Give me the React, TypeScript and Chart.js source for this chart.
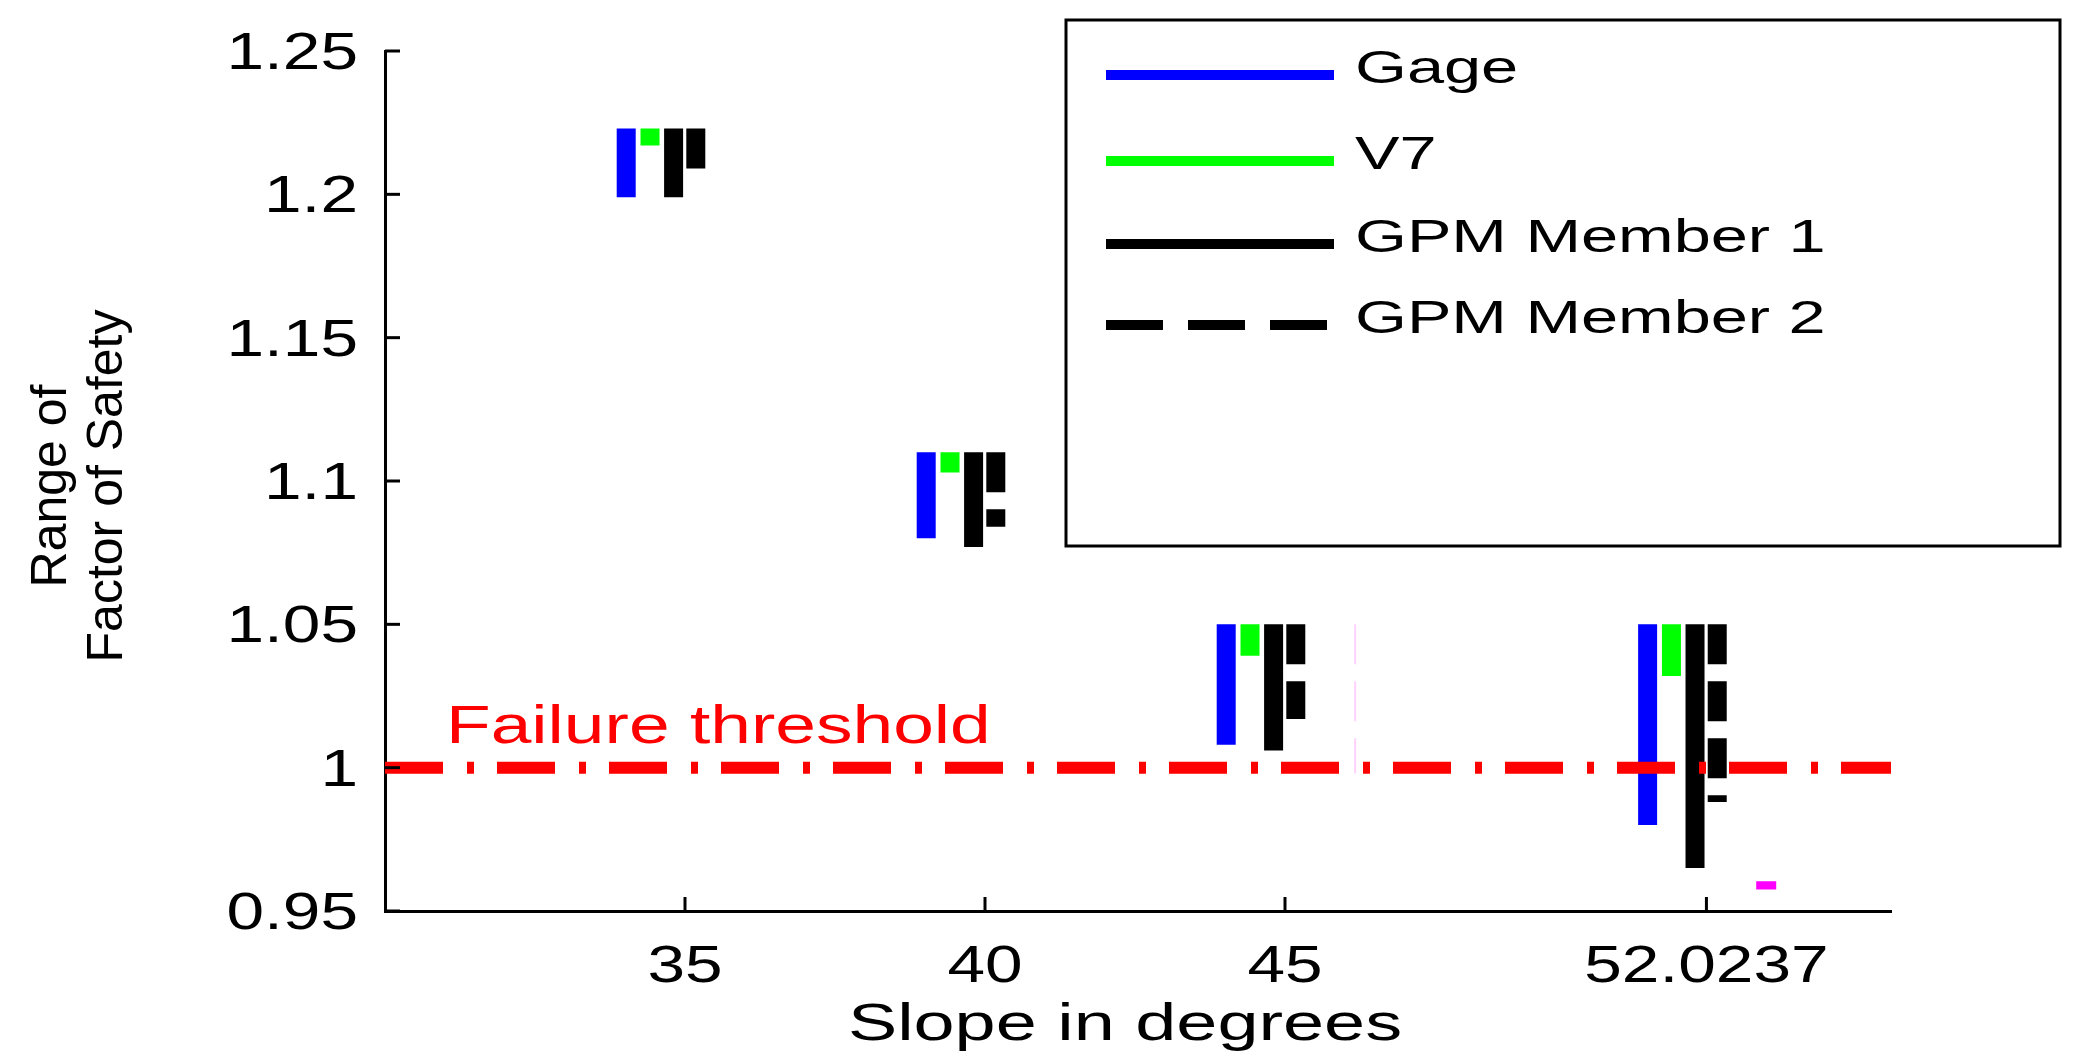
import React, { useEffect, useRef } from 'react';
import { Chart, registerables } from 'chart.js';

Chart.register(...registerables);

// ---------------- data ----------------
const slopes = [35, 40, 45, 52.0237];
const xTickLabels = ['35', '40', '45', '52.0237'];
const yTickValues = [0.95, 1, 1.05, 1.1, 1.15, 1.2, 1.25];
const yTickLabels = ['0.95', '1', '1.05', '1.1', '1.15', '1.2', '1.25'];

const seriesNames = ['Gage', 'V7', 'GPM Member 1', 'GPM Member 2'];

const gageLow = [1.199, 1.080, 1.008, 0.980];
const gageHigh = [1.223, 1.110, 1.050, 1.050];
const v7Low = [1.217, 1.103, 1.039, 1.032];
const v7High = [1.223, 1.110, 1.050, 1.050];
const gpm1Low = [1.199, 1.077, 1.006, 0.965];
const gpm1High = [1.223, 1.110, 1.050, 1.050];
const gpm2Low = [1.209, 1.084, 1.017, 0.988];
const gpm2High = [1.223, 1.110, 1.050, 1.050];

// extra (unlabelled) magenta marks
const extraX = [46.17, 53.02];
const extraLow = [0.998, 0.9575];
const extraHigh = [1.05, 0.9604];

const failureThreshold = 1;
const xMin = 30;
const xMax = 55.1;
const yMin = 0.95;
const yMax = 1.25;

// ---------------- styles ----------------
const FONT = '"Liberation Sans", Arial, Helvetica, sans-serif';
const seriesOffsets = [-0.98, -0.583, -0.19, 0.18];
const seriesColors = ['#0000ff', '#00ff00', '#000000', '#000000'];
const seriesDash: number[][] = [[], [], [], [40, 17]];
const legendDash: number[][] = [[], [], [], [57, 25]];

function rangeSegments(xs: number[], lows: number[], highs: number[], offset: number) {
  const pts: { x: number; y: number | null }[] = [];
  xs.forEach((x, i) => {
    pts.push({ x: x + offset, y: highs[i] });
    pts.push({ x: x + offset, y: lows[i] });
    pts.push({ x: x + offset, y: null });
  });
  return pts;
}

function drawText(
  ctx: CanvasRenderingContext2D,
  text: string,
  x: number,
  y: number,
  size: number,
  sx: number,
  align: 'left' | 'center' | 'right',
  color: string
) {
  ctx.save();
  ctx.font = `${size}px ${FONT}`;
  ctx.fillStyle = color;
  ctx.textBaseline = 'alphabetic';
  ctx.textAlign = 'left';
  const w = ctx.measureText(text).width * sx;
  const left = align === 'center' ? x - w / 2 : align === 'right' ? x - w : x;
  ctx.translate(left, y);
  ctx.scale(sx, 1);
  ctx.fillText(text, 0, 0);
  ctx.restore();
}

const decorPlugin = {
  id: 'decor',
  afterDraw(chart: any) {
    const ctx: CanvasRenderingContext2D = chart.ctx;
    const xs = chart.scales.x;
    const ys = chart.scales.y;
    const area = chart.chartArea;

    ctx.save();
    ctx.strokeStyle = '#000';
    ctx.lineWidth = 3;
    ctx.lineCap = 'butt';

    // y ticks (inward) + labels
    ys.ticks.forEach((t: any, i: number) => {
      const py = ys.getPixelForValue(t.value);
      ctx.beginPath();
      ctx.moveTo(area.left, py);
      ctx.lineTo(area.left + 15, py);
      ctx.stroke();
      drawText(ctx, yTickLabels[i], area.left - 27, py + 18, 52, 1.3, 'right', '#000');
    });

    // x ticks (inward) + labels
    xs.ticks.forEach((t: any, i: number) => {
      const px = xs.getPixelForValue(t.value);
      ctx.beginPath();
      ctx.moveTo(px, area.bottom);
      ctx.lineTo(px, area.bottom - 14);
      ctx.stroke();
      drawText(ctx, xTickLabels[i], px, area.bottom + 71, 52, 1.3, 'center', '#000');
    });

    // x title
    drawText(ctx, 'Slope in degrees', 1125, 1040, 52, 1.42, 'center', '#000');

    // y title (rotated)
    ctx.save();
    ctx.fillStyle = '#000';
    ctx.font = `50px ${FONT}`;
    ctx.textAlign = 'center';
    ctx.textBaseline = 'alphabetic';
    const cy = (area.top + area.bottom) / 2 + 5;
    ctx.translate(66, cy);
    ctx.rotate(-Math.PI / 2);
    ctx.fillText('Range of', 0, 0);
    ctx.restore();
    ctx.save();
    ctx.fillStyle = '#000';
    ctx.font = `50px ${FONT}`;
    ctx.textAlign = 'center';
    ctx.textBaseline = 'alphabetic';
    ctx.translate(122, cy);
    ctx.rotate(-Math.PI / 2);
    ctx.fillText('Factor of Safety', 0, 0);
    ctx.restore();

    // failure threshold label
    drawText(ctx, 'Failure threshold', 446, ys.getPixelForValue(failureThreshold) - 25, 53, 1.38, 'left', '#ff0000');

    // legend
    const boxL = 1066, boxT = 20, boxR = 2060, boxB = 546;
    ctx.fillStyle = '#fff';
    ctx.fillRect(boxL, boxT, boxR - boxL, boxB - boxT);
    ctx.lineWidth = 3;
    ctx.strokeStyle = '#000';
    ctx.setLineDash([]);
    ctx.strokeRect(boxL, boxT, boxR - boxL, boxB - boxT);
    const rowY = [75, 161, 244, 325];
    seriesNames.forEach((name, i) => {
      const ds = chart.data.datasets[i + 1];
      ctx.save();
      ctx.strokeStyle = ds.borderColor;
      ctx.lineWidth = 10;
      ctx.lineCap = 'butt';
      ctx.setLineDash(legendDash[i]);
      ctx.beginPath();
      ctx.moveTo(1106, rowY[i]);
      ctx.lineTo(1334, rowY[i]);
      ctx.stroke();
      ctx.restore();
      drawText(ctx, name, 1355, rowY[i] + 8, 46, 1.45, 'left', '#000');
    });

    ctx.restore();
  },
};

export default function App() {
  const canvasRef = useRef<HTMLCanvasElement | null>(null);

  useEffect(() => {
    const canvas = canvasRef.current;
    if (!canvas) return;

    const lows = [gageLow, v7Low, gpm1Low, gpm2Low];
    const highs = [gageHigh, v7High, gpm1High, gpm2High];

    const seriesDatasets = seriesNames.map((name, i) => ({
      label: name,
      data: rangeSegments(slopes, lows[i], highs[i], seriesOffsets[i]),
      borderColor: seriesColors[i],
      backgroundColor: seriesColors[i],
      borderWidth: 19,
      borderDash: seriesDash[i],
      borderCapStyle: 'butt' as const,
      pointRadius: 0,
      spanGaps: false,
      fill: false,
    }));

    const chart = new Chart(canvas, {
      type: 'line',
      data: {
        datasets: [
          {
            label: 'Failure threshold',
            data: [
              { x: xMin, y: failureThreshold },
              { x: xMax, y: failureThreshold },
            ],
            borderColor: '#ff0000',
            borderWidth: 12,
            borderDash: [58, 24, 7, 23],
            borderCapStyle: 'butt',
            pointRadius: 0,
            fill: false,
          },
          ...seriesDatasets,
          {
            label: 'extra faint',
            data: [
              { x: extraX[0], y: extraHigh[0] },
              { x: extraX[0], y: extraLow[0] },
            ],
            borderColor: 'rgba(255,0,255,0.18)',
            borderWidth: 2,
            borderDash: [40, 17],
            pointRadius: 0,
            fill: false,
          },
          {
            label: 'extra',
            data: [
              { x: extraX[1], y: extraHigh[1] },
              { x: extraX[1], y: extraLow[1] },
            ],
            borderColor: '#ff00ff',
            borderWidth: 20,
            borderCapStyle: 'butt',
            pointRadius: 0,
            fill: false,
          },
        ] as any,
      },
      options: {
        animation: false,
        responsive: false,
        maintainAspectRatio: false,
        devicePixelRatio: 1,
        events: [],
        layout: { padding: { left: 0, right: 186, top: 51, bottom: 0 } },
        plugins: {
          legend: { display: false },
          tooltip: { enabled: false },
        },
        elements: {
          point: { radius: 0, hoverRadius: 0 },
          line: { tension: 0 },
        },
        scales: {
          x: {
            type: 'linear',
            min: xMin,
            max: xMax,
            grid: { display: false },
            border: { display: true, color: '#000', width: 3 },
            ticks: { display: false },
            afterBuildTicks: (s: any) => {
              s.ticks = slopes.map((v) => ({ value: v }));
            },
            afterFit: (s: any) => {
              s.height = 146;
            },
          },
          y: {
            type: 'linear',
            min: yMin,
            max: yMax,
            grid: { display: false },
            border: { display: true, color: '#000', width: 3 },
            ticks: { display: false },
            afterBuildTicks: (s: any) => {
              s.ticks = yTickValues.map((v) => ({ value: v }));
            },
            afterFit: (s: any) => {
              s.width = 385;
            },
          },
        },
      } as any,
      plugins: [decorPlugin],
    });

    return () => chart.destroy();
  }, []);

  return (
    <div style={{ position: 'fixed', left: 0, top: 0, width: 2077, height: 1057, background: '#fff' }}>
      <canvas ref={canvasRef} width={2077} height={1057} style={{ display: 'block' }} />
    </div>
  );
}
